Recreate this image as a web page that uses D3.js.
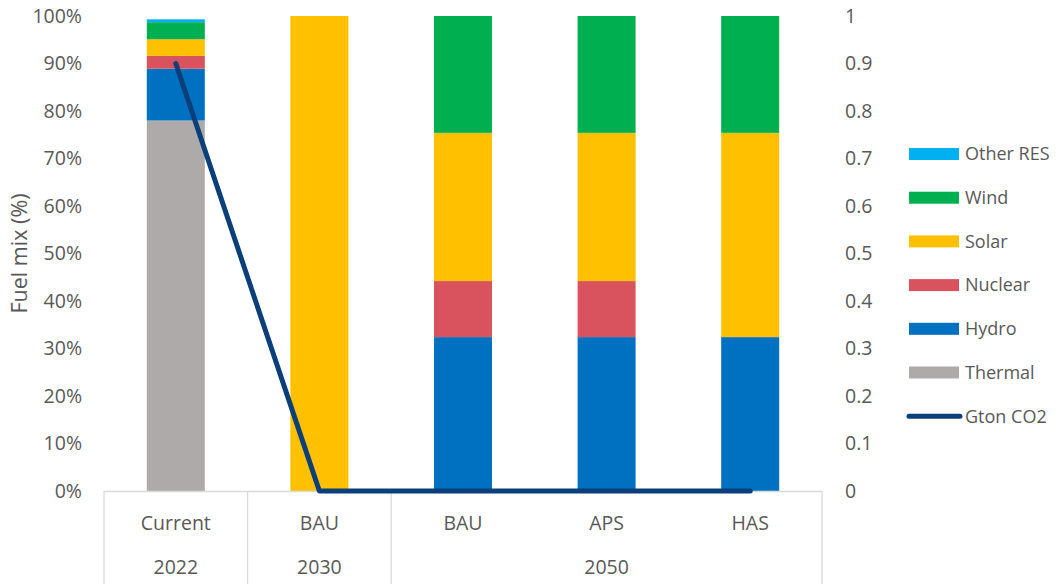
<!DOCTYPE html>
<html lang="en">
<head>
<meta charset="UTF-8">
<title>Fuel mix</title>
<script src="https://cdn.jsdelivr.net/npm/d3@7"></script>
<style>
  body { margin: 0; background: #fff; }
  text { font-family: "Open Sans", sans-serif; fill: #595959; }
</style>
</head>
<body>
<svg id="chart" width="1057" height="584"></svg>
<script>
// scenario labels (inner level) and years (outer level)
const scenarios = ["Current", "BAU", "BAU", "APS", "HAS"];
const years = ["2022", "2030", "2050", "2050", "2050"];

// fuel mix shares, % of total
const thermal  = [78.0, 0, 0, 0, 0];
const hydro    = [10.9, 0, 32.4, 32.4, 32.4];
const nuclear  = [2.7, 0, 11.8, 11.8, 0];
const solar    = [3.5, 100, 31.2, 31.2, 43.0];
const wind     = [3.6, 0, 24.6, 24.6, 24.6];
const otherRes = [0.6, 0, 0, 0, 0];

// emissions, right axis
const gtonCO2 = [0.9, 0, 0, 0, 0];

const seriesNames = ["Thermal", "Hydro", "Nuclear", "Solar", "Wind", "Other RES"];
const seriesColors = ["#AEAAAA", "#0070C0", "#D9535F", "#FFC000", "#00B050", "#00B0F0"];
const leftTicks = [0, 10, 20, 30, 40, 50, 60, 70, 80, 90, 100];
const rightTicks = [0, 0.1, 0.2, 0.3, 0.4, 0.5, 0.6, 0.7, 0.8, 0.9, 1];

const lineColor = "#0B3F7A";
const svg = d3.select("#chart");
const plotL = 104, plotR = 822, plotT = 16, plotB = 491;
const axisFont = "19.5px";

const keys = scenarios.map((s, i) => years[i] + " " + s);
const rows = keys.map((k, i) => ({
  key: k,
  "Thermal": thermal[i], "Hydro": hydro[i], "Nuclear": nuclear[i],
  "Solar": solar[i], "Wind": wind[i], "Other RES": otherRes[i]
}));

const x = d3.scaleBand().domain(keys).range([plotL, plotR]).paddingInner(0).paddingOuter(0);
const y = d3.scaleLinear().domain([0, 100]).range([plotB, plotT]);
const y2 = d3.scaleLinear().domain([0, 1]).range([plotB, plotT]);
const barW = 58;

const stacked = d3.stack().keys(seriesNames)(rows);

svg.append("g").selectAll("g")
  .data(stacked)
  .join("g")
  .attr("fill", (d, i) => seriesColors[i])
  .selectAll("rect")
  .data(d => d)
  .join("rect")
  .attr("x", d => x(d.data.key) + x.bandwidth() / 2 - barW / 2)
  .attr("width", barW)
  .attr("y", d => y(d[1]))
  .attr("height", d => y(d[0]) - y(d[1]));

// category axis box
const axisG = svg.append("g").attr("stroke", "#D9D9D9").attr("stroke-width", 1.3);
axisG.append("line").attr("x1", plotL).attr("x2", plotR).attr("y1", plotB + 0.5).attr("y2", plotB + 0.5);
// group boundaries between years
const yearGroups = [];
years.forEach((yr, i) => {
  const g = yearGroups.find(d => d.year === yr);
  if (g) g.last = i; else yearGroups.push({ year: yr, first: i, last: i });
});
const bounds = [plotL].concat(yearGroups.map(g => x(keys[g.last]) + x.bandwidth()));
bounds.forEach(bx => {
  axisG.append("line").attr("x1", bx).attr("x2", bx).attr("y1", plotB).attr("y2", 584);
});

svg.append("g").selectAll("text")
  .data(keys)
  .join("text")
  .attr("x", d => x(d) + x.bandwidth() / 2)
  .attr("y", 530)
  .attr("text-anchor", "middle")
  .style("font-size", axisFont)
  .text((d, i) => scenarios[i]);

svg.append("g").selectAll("text")
  .data(yearGroups)
  .join("text")
  .attr("x", g => (x(keys[g.first]) + x(keys[g.last]) + x.bandwidth()) / 2)
  .attr("y", 574)
  .attr("text-anchor", "middle")
  .style("font-size", axisFont)
  .text(g => g.year);

// left axis
svg.append("g").selectAll("text")
  .data(leftTicks)
  .join("text")
  .attr("x", 82)
  .attr("y", d => y(d))
  .attr("dy", "0.35em")
  .attr("text-anchor", "end")
  .style("font-size", axisFont)
  .text(d => d + "%");

// right axis
svg.append("g").selectAll("text")
  .data(rightTicks)
  .join("text")
  .attr("x", 845)
  .attr("y", d => y2(d))
  .attr("dy", "0.35em")
  .attr("text-anchor", "start")
  .style("font-size", axisFont)
  .text(d => d3.format("~g")(d));

svg.append("text")
  .attr("transform", `translate(27, ${(plotT + plotB) / 2}) rotate(-90)`)
  .attr("text-anchor", "middle")
  .style("font-size", "21.5px")
  .text("Fuel mix (%)");

// emissions line
const line = d3.line()
  .x((d, i) => x(keys[i]) + x.bandwidth() / 2)
  .y(d => y2(d));
svg.append("path")
  .datum(gtonCO2)
  .attr("d", line)
  .attr("fill", "none")
  .attr("stroke", lineColor)
  .attr("stroke-width", 5)
  .attr("stroke-linecap", "round")
  .attr("stroke-linejoin", "round");

// legend
const legendItems = seriesNames.map((n, i) => ({ name: n, color: seriesColors[i] })).reverse();
legendItems.push({ name: "Gton CO2", color: lineColor, line: true });
const leg = svg.append("g").selectAll("g")
  .data(legendItems)
  .join("g")
  .attr("transform", (d, i) => `translate(909, ${154 + i * 43.7})`);
leg.filter(d => !d.line).append("rect")
  .attr("x", 0).attr("y", -6).attr("width", 50).attr("height", 12)
  .attr("fill", d => d.color);
leg.filter(d => d.line).append("line")
  .attr("x1", 0).attr("x2", 51).attr("y1", 0).attr("y2", 0)
  .attr("stroke", d => d.color).attr("stroke-width", 5).attr("stroke-linecap", "round");
leg.append("text")
  .attr("x", 56)
  .attr("dy", "0.35em")
  .style("font-size", "18px")
  .text(d => d.name);
</script>
</body>
</html>
